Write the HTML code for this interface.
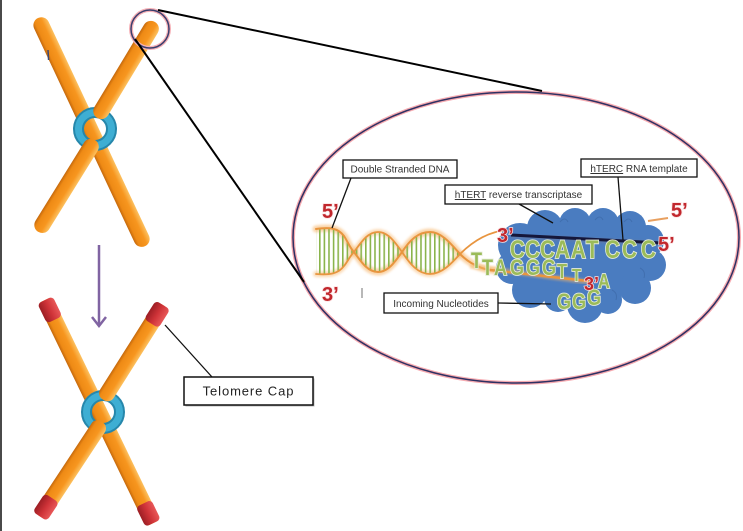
<!DOCTYPE html>
<html><head><meta charset="utf-8">
<style>
html,body{margin:0;padding:0;background:#fff;}
body{width:743px;height:531px;overflow:hidden;position:relative;}
svg{position:absolute;left:0;top:0;}
</style></head>
<body>
<svg width="743" height="531" viewBox="0 0 743 531" xmlns="http://www.w3.org/2000/svg">
<defs>
  <linearGradient id="org" x1="0" y1="0" x2="0" y2="1">
    <stop offset="0" stop-color="#fcc160"/>
    <stop offset="0.35" stop-color="#f7961f"/>
    <stop offset="0.8" stop-color="#ee8a15"/>
    <stop offset="1" stop-color="#c4680c"/>
  </linearGradient>
  <linearGradient id="red" x1="0" y1="0" x2="0" y2="1">
    <stop offset="0" stop-color="#e85858"/>
    <stop offset="0.5" stop-color="#cf3338"/>
    <stop offset="1" stop-color="#9c1e24"/>
  </linearGradient>
  <pattern id="bars" patternUnits="userSpaceOnUse" x="319" y="0" width="4.6" height="20">
    <rect x="0" y="0" width="1.6" height="20" fill="#8ab44c"/>
  </pattern>
  <filter id="blur" x="-20%" y="-50%" width="140%" height="200%"><feGaussianBlur stdDeviation="1.2"/></filter>
  <filter id="sblur" x="-10%" y="-10%" width="120%" height="120%"><feGaussianBlur stdDeviation="1"/></filter>
</defs>

<!-- left border -->
<rect x="0" y="0" width="2" height="531" fill="#4a4a4a"/>

<!-- ===== Chromosome 1 ===== -->
<g transform="translate(38,18) rotate(64.86)">
  <rect x="0" y="-8" width="252" height="16" rx="8" fill="url(#org)"/>
</g>
<circle cx="95" cy="129" r="16.5" fill="none" stroke="#2687ab" stroke-width="11"/>
<circle cx="95" cy="129" r="16.5" fill="none" stroke="#3eaed3" stroke-width="7"/>
<g transform="translate(155,22) rotate(121.1)">
  <rect x="0" y="-8" width="112" height="16" rx="8" fill="url(#org)"/>
</g>
<g transform="translate(95,140) rotate(121.8)">
  <rect x="0" y="-8" width="108" height="16" rx="8" fill="url(#org)"/>
</g>
<line x1="48" y1="50" x2="48.6" y2="60" stroke="#3a4a7a" stroke-width="1.5"/>

<!-- small zoom circle -->
<circle cx="150" cy="29" r="19" fill="none" stroke="#f6b0b6" stroke-width="4"/>
<circle cx="150" cy="29" r="19" fill="none" stroke="#3a3f6e" stroke-width="1.5"/>

<!-- purple arrow -->
<line x1="99" y1="245" x2="99" y2="326" stroke="#8064a2" stroke-width="2.5"/>
<polyline points="92,317 99,326 106,317" fill="none" stroke="#8064a2" stroke-width="2.5"/>

<!-- ===== Chromosome 2 ===== -->
<g transform="translate(45,300) rotate(64.16)">
  <rect x="0" y="-8" width="248" height="16" rx="4" fill="url(#org)"/>
  <rect x="0" y="-8.5" width="22" height="17" rx="4" fill="url(#red)"/>
  <rect x="226" y="-8.5" width="22" height="17" rx="4" fill="url(#red)"/>
</g>
<circle cx="103" cy="412" r="16.5" fill="none" stroke="#2687ab" stroke-width="11"/>
<circle cx="103" cy="412" r="16.5" fill="none" stroke="#3eaed3" stroke-width="7"/>
<g transform="translate(163,305) rotate(122.3)">
  <rect x="0" y="-8" width="112" height="16" rx="7" fill="url(#org)"/>
  <rect x="0" y="-8.5" width="22" height="17" rx="4" fill="url(#red)"/>
</g>
<g transform="translate(102,422) rotate(123.4)">
  <rect x="0" y="-8" width="113" height="16" rx="7" fill="url(#org)"/>
  <rect x="91" y="-8.5" width="22" height="17" rx="4" fill="url(#red)"/>
</g>

<!-- Telomere cap label -->
<line x1="165" y1="325" x2="212" y2="377" stroke="#111" stroke-width="1.3"/>
<rect x="185.5" y="378.5" width="129" height="28" fill="#bbb"/>
<rect x="184" y="377" width="129" height="28" fill="#fff" stroke="#111" stroke-width="1.5"/>
<text x="248.5" y="395.5" text-anchor="middle" font-family="Liberation Sans, sans-serif" font-size="13" letter-spacing="0.9" fill="#222">Telomere Cap</text>

<!-- ===== Big ellipse ===== -->
<ellipse cx="516" cy="237.5" rx="223" ry="145.5" fill="#fff" stroke="#f6aab0" stroke-width="4"/>
<ellipse cx="516" cy="237.5" rx="223" ry="145.5" fill="none" stroke="#2e3163" stroke-width="1.5"/>

<!-- zoom lines -->
<line x1="158" y1="10" x2="542" y2="91" stroke="#000" stroke-width="2"/>
<line x1="135" y1="39" x2="304" y2="282" stroke="#000" stroke-width="2"/>

<!-- ===== DNA helix ===== -->
<g fill="none" stroke-linecap="round">
  <path d="M316,229 C330,227 338,228 344,236 C348,242 350,248 354,252 C362,263 368,272 378,272 C388,272 395,262 402,252 C410,240 418,232 430,232 C442,232 452,245 460,254 C468,262 478,268 490,270 L588,281" stroke="#f7b870" stroke-width="7" opacity="0.6" filter="url(#blur)"/>
  <path d="M316,274 C330,275 338,274 344,266 C348,261 350,256 354,252 C362,241 368,232 378,232 C388,232 395,242 402,252 C410,264 418,274 430,274 C442,274 452,263 460,254" stroke="#f7b870" stroke-width="6" opacity="0.5" filter="url(#blur)"/>
</g>
<path d="M316,229 C330,227 338,228 344,236 C348,242 350,248 354,252 C362,263 368,272 378,272 C388,272 395,262 402,252 C410,240 418,232 430,232 C442,232 452,245 460,254 C452,263 442,274 430,274 C418,274 410,264 402,252 C395,242 388,232 378,232 C368,232 362,241 354,252 C350,256 348,261 344,266 C338,274 330,275 316,274 Z" fill="url(#bars)"/>
<g fill="none" stroke-linecap="round">
  <path d="M316,229 C330,227 338,228 344,236 C348,242 350,248 354,252 C362,263 368,272 378,272 C388,272 395,262 402,252 C410,240 418,232 430,232 C442,232 452,245 460,254 C468,262 478,268 490,270" stroke="#e8953f" stroke-width="2"/>
  <path d="M316,274 C330,275 338,274 344,266 C348,261 350,256 354,252 C362,241 368,232 378,232 C388,232 395,242 402,252 C410,264 418,274 430,274 C442,274 452,263 460,254 C470,244 485,232 507,230" stroke="#e8953f" stroke-width="1.8"/>
</g>
<line x1="362" y1="288" x2="362" y2="298" stroke="#888" stroke-width="1.2"/>

<!-- ===== Cloud ===== -->
<g fill="#4a7cc0">
  <ellipse cx="580" cy="265" rx="66" ry="38"/>
  <circle cx="520" cy="245" r="22"/>
  <circle cx="545" cy="228" r="18"/>
  <circle cx="575" cy="224" r="16"/>
  <circle cx="603" cy="224" r="16"/>
  <circle cx="630" cy="227" r="16"/>
  <circle cx="648" cy="241" r="16"/>
  <circle cx="650" cy="265" r="16"/>
  <circle cx="635" cy="288" r="16"/>
  <circle cx="608" cy="300" r="14"/>
  <circle cx="585" cy="305" r="18"/>
  <circle cx="558" cy="298" r="14"/>
  <circle cx="530" cy="290" r="18"/>
  <circle cx="512" cy="268" r="16"/>
</g>
<g fill="none" stroke="#3d6aa8" stroke-width="1" opacity="0.7">
  <path d="M560,222 q5,-6 8,0"/>
  <path d="M595,220 q5,-6 8,0"/>
  <path d="M624,222 q5,-6 8,0"/>
  <path d="M640,268 q6,3 4,10"/>
  <path d="M612,290 q6,3 4,10"/>
</g>

<!-- lower strand on top of cloud -->
<path d="M470,266 L588,282" fill="none" stroke="#f4b56c" stroke-width="5" opacity="0.5" filter="url(#sblur)"/>
<path d="M490,270 L588,281" fill="none" stroke="#e8953f" stroke-width="2.5" stroke-linecap="round"/>

<!-- RNA template line -->
<line x1="511" y1="236" x2="662" y2="244" stroke="#6a7aa0" stroke-width="5" opacity="0.5" filter="url(#sblur)"/>
<line x1="511" y1="235" x2="662" y2="243" stroke="#15173a" stroke-width="3"/>
<line x1="648" y1="221" x2="668" y2="218" stroke="#e8a060" stroke-width="2"/>

<!-- ===== green letters (narrowed) ===== -->
<g transform="scale(0.82,1)" font-family="Liberation Sans, sans-serif" font-weight="bold" fill="#9bbb59" stroke="#e6ecdc" stroke-width="1.8" paint-order="stroke">
  <text x="622 640.2 658.5 676.8 696.3 714.6 737.8 758.5 781.7" y="258" font-size="25">CCCAATCCC</text>
  <text x="574.4" y="268" font-size="22">T</text>
  <text x="587.8 602.4 622 641.5 661" y="275" font-size="22">TAGGG</text>
  <text x="679.3" y="278" font-size="20">T</text>
  <text x="697.6" y="281" font-size="18">T</text>
  <text x="729.3" y="288" font-size="20">A</text>
  <text x="679.3 697.6" y="309" font-size="22">GG</text>
  <text x="715.9" y="305" font-size="22">G</text>
</g>

<!-- ===== red end labels ===== -->
<g font-family="Liberation Sans, sans-serif" font-weight="bold" fill="#c1272d" stroke="#fbe2e2" stroke-width="1.5" paint-order="stroke" font-size="20">
  <text x="322" y="218">5’</text>
  <text x="322" y="301">3’</text>
  <text x="497" y="242">3’</text>
  <text x="658" y="251">5’</text>
  <text x="671" y="217">5’</text>
  <text x="584" y="290" font-size="18">3’</text>
</g>

<!-- ===== labels ===== -->
<g stroke="#111" stroke-width="1.3">
  <line x1="351" y1="178" x2="332" y2="228"/>
  <line x1="519" y1="204" x2="553" y2="223"/>
  <line x1="618" y1="177" x2="623" y2="240"/>
  <line x1="498" y1="303" x2="551" y2="304"/>
</g>
<g fill="#fff" stroke="#111" stroke-width="1.3">
  <rect x="343" y="160" width="114" height="18"/>
  <rect x="445" y="185" width="147" height="19"/>
  <rect x="581" y="159" width="116" height="18"/>
  <rect x="384" y="293" width="114" height="20"/>
</g>
<g font-family="Liberation Sans, sans-serif" font-size="10" fill="#333" text-anchor="middle">
  <text x="400" y="172.5">Double Stranded DNA</text>
  <text x="518.5" y="198"><tspan text-decoration="underline">hTERT</tspan> reverse transcriptase</text>
  <text x="639" y="172"><tspan text-decoration="underline">hTERC</tspan> RNA template</text>
  <text x="441" y="307">Incoming Nucleotides</text>
</g>
</svg>
</body></html>
